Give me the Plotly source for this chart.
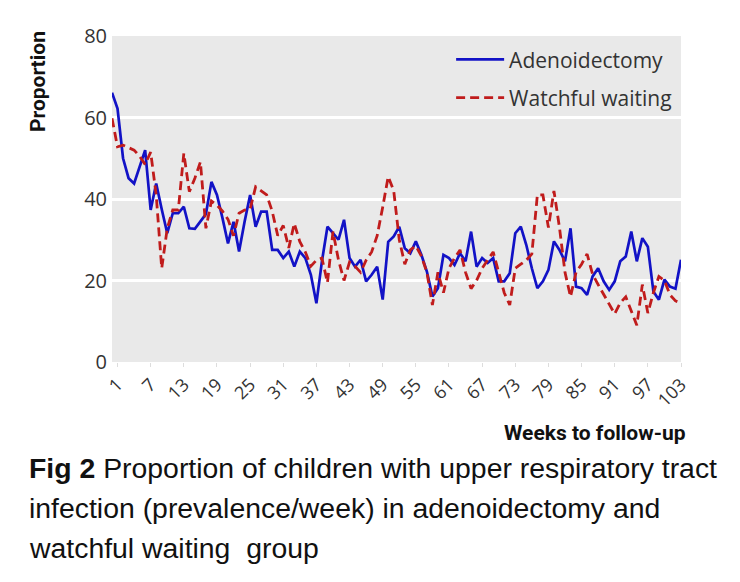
import plotly.graph_objects as go

weeks = list(range(0, 104))

adenoidectomy = [
    66.1, 62.2, 50.0, 45.1, 43.8, 47.9, 52.0, 37.3, 43.8, 37.5,
    31.6, 36.5, 36.5, 38.1, 32.8, 32.7, 34.4, 36.3, 44.2, 41.0,
    35.3, 29.1, 34.4, 27.1, 34.4, 41.0, 33.2, 36.9, 36.9, 27.5,
    27.5, 25.5, 27.1, 23.4, 27.1, 25.5, 21.4, 14.4, 24.7, 33.2,
    31.6, 30.0, 34.9, 25.5, 23.4, 25.1, 19.8, 21.4, 23.4, 15.3,
    29.5, 30.8, 33.2, 27.9, 26.7, 29.6, 26.3, 22.2, 16.1, 18.1,
    26.3, 25.5, 23.8, 26.7, 24.7, 32.0, 23.4, 25.5, 24.3, 25.5,
    19.8, 19.8, 21.8, 31.6, 33.2, 28.7, 23.0, 18.1, 19.8, 22.6,
    29.6, 27.5, 24.7, 32.8, 18.5, 18.1, 16.5, 21.0, 23.0, 19.8,
    17.7, 19.8, 24.7, 25.9, 32.0, 24.7, 30.4, 28.3, 17.3, 15.3,
    20.2, 18.5, 18.0, 25.1,
]

watchful_waiting = [
    59.8, 52.8, 53.2, 52.6, 52.0, 50.5, 48.5, 51.5, 41.0, 23.0,
    32.8, 37.3, 37.3, 51.2, 41.8, 45.1, 49.1, 32.8, 39.5, 38.5,
    37.0, 35.0, 31.0, 36.5, 37.3, 37.5, 43.0, 42.0, 41.0, 37.0,
    31.0, 33.5, 28.0, 34.0, 29.5, 27.0, 23.5, 25.0, 25.5, 19.5,
    32.0, 25.0, 20.0, 24.5, 23.5, 22.0, 25.0, 27.0, 31.0, 38.0,
    45.5, 42.0, 30.0, 24.0, 27.5, 28.5, 26.0, 22.0, 14.0, 22.0,
    17.0, 23.0, 25.5, 27.5, 22.0, 18.0, 20.0, 23.0, 25.0, 27.0,
    22.0, 17.0, 14.0, 23.0, 24.0, 25.0, 26.5, 41.0, 41.0, 33.0,
    42.0, 33.0, 22.0, 16.0, 22.0, 24.0, 26.5, 21.5, 19.0, 16.5,
    14.0, 11.8, 14.5, 16.0, 12.5, 9.0, 19.0, 12.0, 17.0, 21.0,
    20.0, 16.5, 15.0, 14.5,
]

x_ticks = list(range(1, 104, 6))
y_ticks = [0, 20, 40, 60, 80]

caption_lines = [
    "<b>Fig 2</b> Proportion of children with upper respiratory tract",
    "infection (prevalence/week) in adenoidectomy and",
    "watchful waiting  group",
]

fig = go.Figure()
fig.add_trace(go.Scatter(
    x=weeks, y=adenoidectomy, mode="lines", name="Adenoidectomy",
    line=dict(color="#1212c6", width=2.7), legendgroup="a",
))
fig.add_trace(go.Scatter(
    x=weeks, y=watchful_waiting, mode="lines", name="Watchful waiting",
    line=dict(color="#c01c1c", width=2.8, dash="9px,5px"), legendgroup="b",
))

fig.update_layout(
    width=740, height=582,
    margin=dict(l=104, r=67, t=28, b=228),
    paper_bgcolor="white",
    plot_bgcolor="#e9e9e9",
    font=dict(family="Open Sans", color="#333333"),
    showlegend=True,
    legend=dict(
        x=0.596, y=0.99, xanchor="left", yanchor="top",
        bgcolor="rgba(0,0,0,0)", font=dict(size=21, color="#333333"),
        tracegroupgap=8, itemwidth=48,
    ),
    xaxis=dict(
        range=[0, 103], tickmode="array", tickvals=x_ticks,
        ticktext=[str(t) for t in x_ticks], tickangle=-45,
        tickfont=dict(size=18, color="#333333"),
        showgrid=False, zeroline=False, showline=False,
        ticks="outside", ticklen=4, tickcolor="#dddddd",
    ),
    yaxis=dict(
        range=[0, 80], tickmode="array", tickvals=y_ticks,
        tickfont=dict(size=20, color="#333333"),
        showgrid=True, gridcolor="white", gridwidth=2.5,
        zeroline=False, showline=False, ticks="",
        ticklabelstandoff=4,
    ),
)

fig.add_annotation(
    text="<b>Proportion</b>", textangle=-90, xref="paper", yref="paper",
    x=-0.13, y=1.02, xanchor="center", yanchor="top", showarrow=False,
    font=dict(family="Roboto", size=21, color="#111111"),
)
fig.add_annotation(
    text="<b>Weeks to follow-up</b>", xref="paper", yref="paper",
    x=1.012, y=-0.218, xanchor="right", yanchor="middle", showarrow=False,
    font=dict(family="Roboto", size=21, color="#111111"),
)
for i, line in enumerate(caption_lines):
    fig.add_annotation(
        text=line, xref="paper", yref="paper",
        x=-0.15, y=-0.325 - 0.123 * i, xanchor="left", yanchor="middle",
        showarrow=False, align="left",
        font=dict(family="Liberation Sans", size=28.4, color="#111111"),
    )

fig.write_html("out.html")
